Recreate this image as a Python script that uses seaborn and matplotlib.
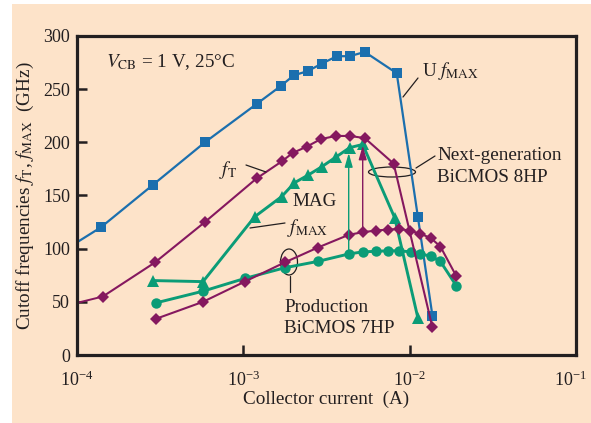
import numpy as np
import pandas as pd
import matplotlib
matplotlib.use("Agg")
import matplotlib.pyplot as plt
import matplotlib.transforms as mtrans
import seaborn as sns
from matplotlib.patches import Ellipse, Rectangle

# ---- data ----
ufmax_x = [1.39e-4, 2.86e-4, 5.87e-4, 1.20e-3, 1.68e-3, 2.01e-3, 2.44e-3, 2.96e-3,
           3.65e-3, 4.36e-3, 5.37e-3, 8.36e-3, 1.12e-2, 1.37e-2]
ufmax_y = [120, 160, 200, 236, 253, 263, 267, 274, 281, 281, 285, 265, 130, 37]
ufmax_edge_x = [1.0e-4, 1.39e-4]
ufmax_edge_y = [106, 120]

ft8_x = [1.43e-4, 2.94e-4, 5.87e-4, 1.20e-3, 1.70e-3, 1.98e-3, 2.41e-3, 2.92e-3,
         3.59e-3, 4.36e-3, 5.37e-3, 8.01e-3, 1.37e-2]
ft8_y = [55, 87, 125, 166, 182, 190, 196, 203, 206, 206, 204, 180, 26]
ft8_edge_x = [1.0e-4, 1.43e-4]
ft8_edge_y = [49, 55]

mag8_x = [2.86e-4, 5.72e-4, 1.17e-3, 1.70e-3, 2.03e-3, 2.44e-3, 2.96e-3, 3.59e-3,
          4.36e-3, 5.22e-3, 8.13e-3, 1.12e-2]
mag8_y = [70, 69, 130, 149, 162, 169, 177, 186, 195, 198, 129, 35]

fmax7_x = [2.98e-4, 5.72e-4, 1.02e-3, 1.77e-3, 2.80e-3, 4.30e-3, 5.22e-3, 6.25e-3,
           7.38e-3, 8.59e-3, 1.00e-2, 1.16e-2, 1.34e-2, 1.53e-2, 1.91e-2]
fmax7_y = [34, 50, 69, 87, 101, 113, 115.5, 117, 118, 118.5, 117, 114, 110, 102, 74]

ft7_x = [2.98e-4, 5.72e-4, 1.02e-3, 1.77e-3, 2.80e-3, 4.30e-3, 5.22e-3, 6.25e-3,
         7.38e-3, 8.59e-3, 1.02e-2, 1.16e-2, 1.34e-2, 1.53e-2, 1.91e-2]
ft7_y = [49, 60, 72, 82, 88, 95, 97, 97.5, 98, 98, 97, 95, 93, 88, 65]

# arrows (x, y_from, y_to)
arrow_green = (4.30e-3, 96, 190)
arrow_purple = (5.22e-3, 116, 197)

xticks = [1e-4, 1e-3, 1e-2, 1e-1]
yticks = [0, 50, 100, 150, 200, 250, 300]

# ---- style ----
BLUE = "#1b6fae"
PURPLE = "#85185f"
GREEN = "#0b9c77"
TXT = "#231f20"
PEACH = "#fde3c9"

sns.set_theme(style="ticks")
plt.rcParams["font.family"] = ["Liberation Serif", "DejaVu Serif"]
plt.rcParams["mathtext.fontset"] = "stix"
plt.rcParams["text.color"] = TXT
plt.rcParams["axes.labelcolor"] = TXT
plt.rcParams["xtick.color"] = TXT
plt.rcParams["ytick.color"] = TXT

FS = 13.8
TFS = 13.0

fig = plt.figure(figsize=(5.91, 4.23), dpi=100)
fig.patch.set_facecolor(PEACH)
fig.patches.append(Rectangle((0, 0), 12 / 591, 1, transform=fig.transFigure,
                             facecolor="white", edgecolor="none", zorder=-5))
fig.patches.append(Rectangle((0, 1 - 4 / 423), 1, 4 / 423, transform=fig.transFigure,
                             facecolor="white", edgecolor="none", zorder=-5))
ax = fig.add_axes([77 / 591, 1 - 355 / 423, 499 / 591, 319 / 423])
ax.set_facecolor(PEACH)

def series(x, y, color, marker, ms, lw, mew=0):
    sns.lineplot(x=x, y=y, color=color, marker=marker, markersize=ms, linewidth=lw,
                 markeredgewidth=mew, markeredgecolor=color, estimator=None,
                 sort=False, ax=ax, legend=False)

sns.lineplot(x=ufmax_edge_x, y=ufmax_edge_y, color=BLUE, linewidth=1.6, ax=ax,
             estimator=None, sort=False)
sns.lineplot(x=ft8_edge_x, y=ft8_edge_y, color=PURPLE, linewidth=1.4, ax=ax,
             estimator=None, sort=False)
series(ufmax_x, ufmax_y, BLUE, "s", 7, 1.6)
series(mag8_x, mag8_y, GREEN, "^", 8.5, 2.1)
series(ft7_x, ft7_y, GREEN, "o", 7.5, 2.1)
series(fmax7_x, fmax7_y, PURPLE, "D", 5.8, 1.5)
series(ft8_x, ft8_y, PURPLE, "D", 5.8, 1.5)

# arrows
for (xa, y0, y1), c in [(arrow_green, GREEN), (arrow_purple, PURPLE)]:
    ax.annotate("", xy=(xa, y1), xytext=(xa, y0),
                arrowprops=dict(arrowstyle="-|>,head_length=0.7,head_width=0.2",
                                color=c, lw=1.0, mutation_scale=12,
                                shrinkA=0, shrinkB=0))

ax.set_xscale("log")
ax.set_xlim(1e-4, 1e-1)
ax.set_ylim(0, 300)
ax.set_xticks(xticks)
ax.set_yticks(yticks)
ax.minorticks_off()
ax.tick_params(axis="both", which="major", direction="in", length=7, width=1.8,
               labelsize=TFS, pad=5)
ax.tick_params(axis="x", pad=11)
for s in ax.spines.values():
    s.set_visible(True)
    s.set_linewidth(2.3)
    s.set_color(TXT)

ax.set_xlabel("Collector current  (A)", fontsize=FS, labelpad=1)
ax.set_ylabel(r"Cutoff frequencies $f_{\mathrm{T}}$, $f_{\mathrm{MAX}}$  (GHz)",
              fontsize=FS, labelpad=5)

# nudge the last x tick label so it stays inside the figure
fig.canvas.draw()
last = ax.get_xticklabels()[-1]
last.set_transform(last.get_transform() +
                   mtrans.ScaledTranslation(-6 / 100, 0, fig.dpi_scale_trans))

T = ax.transAxes
def fx(px):
    return (px - 77) / 499
def fy(py):
    return (355 - py) / 319

def lead(p0, p1):
    ax.plot([fx(p0[0]), fx(p1[0])], [fy(p0[1]), fy(p1[1])], color=TXT, lw=0.9,
            transform=T, clip_on=False)

def txt(px, py, s):
    ax.text(fx(px), fy(py), s, transform=T, ha="left", va="center", fontsize=FS)

txt(106, 62, r"$V_{\mathrm{CB}}$ = 1 V, 25°C")
txt(422, 71, r"U $f_{\mathrm{MAX}}$")
lead((403, 97), (418, 78))
txt(219, 170, r"$f_{\mathrm{T}}$")
lead((246, 165), (266, 172))
txt(292, 201, "MAG")
txt(287, 228, r"$f_{\mathrm{MAX}}$")
lead((250, 228), (285, 223))
txt(437, 155, "Next-generation")
txt(437, 178, "BiCMOS 8HP")
lead((416, 168), (435, 156))
txt(284, 307, "Production")
txt(284, 328, "BiCMOS 7HP")
lead((290, 276), (290, 292))

ax.add_patch(Ellipse((fx(392), fy(172)), 47 / 499, 10 / 319, transform=T,
                     facecolor="none", edgecolor=TXT, lw=0.9))
ax.add_patch(Ellipse((fx(289), fy(262)), 17 / 499, 26 / 319, transform=T,
                     facecolor="none", edgecolor=TXT, lw=0.9))

fig.savefig("out.png", dpi=100, facecolor=fig.get_facecolor())
